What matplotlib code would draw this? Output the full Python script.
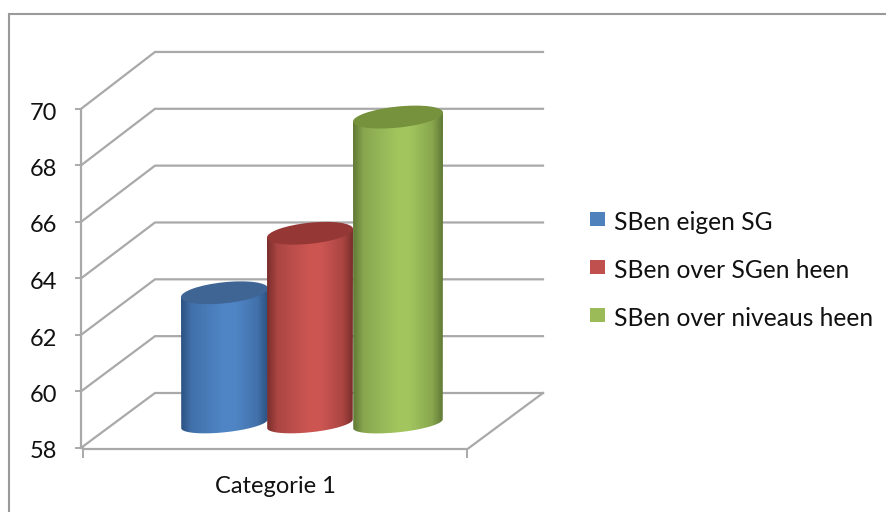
import numpy as np
import matplotlib
matplotlib.use("Agg")
import matplotlib.pyplot as plt
from matplotlib.colors import LinearSegmentedColormap
from matplotlib.patches import Ellipse, PathPatch, Rectangle
from matplotlib.path import Path

plt.rcParams["font.family"] = ["Lato", "DejaVu Sans"]

category = "Categorie 1"
series = ["SBen eigen SG", "SBen over SGen heen", "SBen over niveaus heen"]
values = [62.5, 64.6, 68.7]
y_ticks = [58, 60, 62, 64, 66, 68, 70]
body_colors = ["#5086c6", "#cd5653", "#a3c65f"]
edge_colors = ["#2c5282", "#7a2e2c", "#617a36"]
top_colors = ["#3e6594", "#943735", "#76923c"]
legend_colors = ["#4f81bd", "#c0504d", "#9bbb59"]

GRID = "#a9a9a9"
X_AXIS, X0, X1 = 81.5, 83, 467.5
BACK_L, BACK_R = 155, 543
FLOOR_Y = 449


def front_y(v):
    return 447.5 - (v - y_ticks[0]) * 28.25


def back_y(v):
    return 393 - (v - y_ticks[0]) * 28.42


def mid_y(v):
    return (front_y(v) + back_y(v)) / 2


fig = plt.figure(figsize=(8.86, 5.12), dpi=100)
ax = fig.add_axes([0, 0, 1, 1])
ax.set_xlim(0, 886)
ax.set_ylim(512, 0)
ax.axis("off")

# chart frame, only top and left show
ax.plot([9, 9, 886], [512, 13.5, 13.5], color="#9a9a9a", lw=1.5, solid_joinstyle="miter")

# walls and gridlines
for t in y_ticks:
    ax.plot([X_AXIS, BACK_L, BACK_R], [front_y(t), back_y(t), back_y(t)], color=GRID, lw=1.6,
            solid_joinstyle="miter")
    ax.plot([76, X_AXIS], [front_y(t), front_y(t)], color=GRID, lw=1.4)
    ax.text(57, front_y(t) + 11, str(t), ha="right", va="baseline", fontsize=17, color="#111111")
ax.plot([X_AXIS, X_AXIS], [front_y(70), front_y(58)], color=GRID, lw=1.6)

# floor
ax.plot([X0, X1, BACK_R], [FLOOR_Y, FLOOR_Y, back_y(58)], color=GRID, lw=1.6)
ax.plot([X0, X0], [front_y(58), 457], color=GRID, lw=1.4)
ax.plot([X1, X1], [FLOOR_Y, 457], color=GRID, lw=1.4)
ax.text(275, 493, category, ha="center", va="baseline", fontsize=17, color="#111111")

# cylinders
lefts = [181, 267, 353]
rights = [268, 353, 443]
tilt = np.radians(-6)
for i, v in enumerate(values):
    l, r = lefts[i], rights[i]
    cx = (l + r) / 2
    a = (r - l) / 2
    top_y = mid_y(v)
    base_y = mid_y(y_ticks[0]) + 3.5

    t = np.linspace(np.pi, 0, 50)
    ex = a * np.cos(t)
    ey = 8.5 * np.sin(t)
    low_x = cx + ex * np.cos(tilt) - ey * np.sin(tilt)
    low_y = base_y + ex * np.sin(tilt) + ey * np.cos(tilt)
    rise = a * np.sin(tilt)
    verts = [(l, top_y - rise)] + list(zip(low_x, low_y)) + [(r, top_y + rise), (l, top_y - rise)]

    cmap = LinearSegmentedColormap.from_list("c", [edge_colors[i], body_colors[i], edge_colors[i]])
    grad = cmap(np.interp(np.linspace(0, 1, 200), [0, 0.12, 0.5, 0.62, 0.88, 1], [0, 0.3, 0.5, 0.5, 0.7, 1]))[None, :, :]
    im = ax.imshow(grad, extent=[l, r, 512, 0], aspect="auto", zorder=3 + i)
    clip = PathPatch(Path(verts), transform=ax.transData, fc="none", ec="none")
    ax.add_patch(clip)
    im.set_clip_path(clip)
    ax.add_patch(Ellipse((cx, top_y), r - l + 0.5, 21, angle=np.degrees(tilt), fc=top_colors[i], ec="none", zorder=3 + i))

ax.set_xlim(0, 886)
ax.set_ylim(512, 0)

# legend
legend_y = [219, 267, 315]
for name, color, y in zip(series, legend_colors, legend_y):
    ax.add_patch(Rectangle((590, y - 7), 15, 14, fc=color, ec="none"))
    ax.text(614, y + 11, name, ha="left", va="baseline", fontsize=17.7, color="#111111")

fig.savefig("out.png", dpi=100)
